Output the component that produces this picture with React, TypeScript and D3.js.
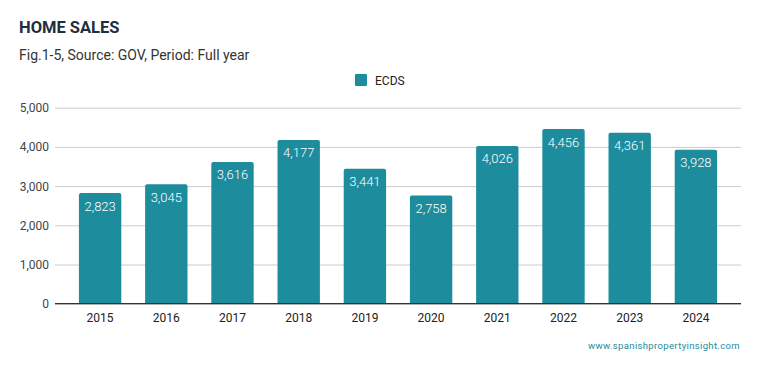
import React, { useEffect, useRef } from 'react';
import * as d3 from 'd3';

const years = ['2015', '2016', '2017', '2018', '2019', '2020', '2021', '2022', '2023', '2024'];
const ecds = [2823, 3045, 3616, 4177, 3441, 2758, 4026, 4456, 4361, 3928];
const yTicks = [0, 1000, 2000, 3000, 4000, 5000];
const seriesName = 'ECDS';

const W = 759;
const H = 371;
const BAR = '#1d8c9d';

const App = () => {
  const ref = useRef<SVGSVGElement>(null);

  useEffect(() => {
    const svg = d3.select(ref.current);
    svg.selectAll('*').remove();
    const font = 'Roboto, sans-serif';

    // title + subtitle
    svg.append('text').attr('x', 19).attr('y', 33)
      .attr('font-family', font).attr('font-size', 16.5).attr('font-weight', 700)
      .attr('fill', '#1f2d3d').text('HOME SALES');
    svg.append('text').attr('x', 19).attr('y', 60)
      .attr('font-family', font).attr('font-size', 14)
      .attr('fill', '#333').text('Fig.1-5, Source: GOV, Period: Full year');

    // legend
    svg.append('rect').attr('x', 355).attr('y', 74).attr('width', 12).attr('height', 12)
      .attr('rx', 1).attr('fill', BAR);
    svg.append('text').attr('x', 375).attr('y', 85)
      .attr('font-family', font).attr('font-size', 12).attr('fill', '#222').text(seriesName);

    const x = d3.scaleBand().domain(years).range([67, 729]).paddingInner(0.36).paddingOuter(0.18);
    const y = d3.scaleLinear().domain([0, 5000]).range([303.7, 107.7]);

    // grid
    const grid = svg.append('g')
      .attr('transform', 'translate(55,0)')
      .call(d3.axisLeft(y).tickValues(yTicks).tickSize(-686).tickFormat(() => ''));
    grid.select('.domain').remove();
    grid.selectAll('line').attr('stroke', '#cccccc');

    // y labels
    svg.append('g').selectAll('text').data(yTicks).enter().append('text')
      .attr('x', 49).attr('y', d => y(d) + 4.5).attr('text-anchor', 'end')
      .attr('font-family', font).attr('font-size', 12).attr('fill', '#444')
      .text(d => d3.format(',')(d));

    // bars with rounded top
    const r = 2;
    svg.append('g').selectAll('path').data(ecds).enter().append('path')
      .attr('fill', BAR)
      .attr('d', (d, i) => {
        const x0 = x(years[i]) as number;
        const w = x.bandwidth();
        const y0 = y(d);
        const yb = y(0);
        return `M${x0},${yb}V${y0 + r}Q${x0},${y0} ${x0 + r},${y0}H${x0 + w - r}Q${x0 + w},${y0} ${x0 + w},${y0 + r}V${yb}Z`;
      });

    // value labels
    svg.append('g').selectAll('text').data(ecds).enter().append('text')
      .attr('x', (d, i) => (x(years[i]) as number) + x.bandwidth() / 2)
      .attr('y', d => y(d) + 17.5).attr('text-anchor', 'middle')
      .attr('font-family', font).attr('font-size', 13).attr('font-weight', 300).attr('fill', '#fff')
      .text(d => d3.format(',')(d));

    // baseline
    svg.append('line').attr('x1', 55).attr('x2', 741).attr('y1', y(0)).attr('y2', y(0))
      .attr('stroke', '#333').attr('stroke-width', 1.2);

    // x labels
    svg.append('g').selectAll('text').data(years).enter().append('text')
      .attr('x', d => (x(d) as number) + x.bandwidth() / 2).attr('y', 322)
      .attr('text-anchor', 'middle')
      .attr('font-family', font).attr('font-size', 12).attr('fill', '#222')
      .text(d => d);

    // source
    svg.append('text').attr('x', 740).attr('y', 349).attr('text-anchor', 'end')
      .attr('font-family', font).attr('font-size', 9.5).attr('letter-spacing', 0.35)
      .attr('fill', '#1d8c9d').text('www.spanishpropertyinsight.com');
  }, []);

  return (
    <svg ref={ref} width={W} height={H}
      style={{ position: 'absolute', top: 0, left: 0, background: '#fff' }} />
  );
};

export default App;
